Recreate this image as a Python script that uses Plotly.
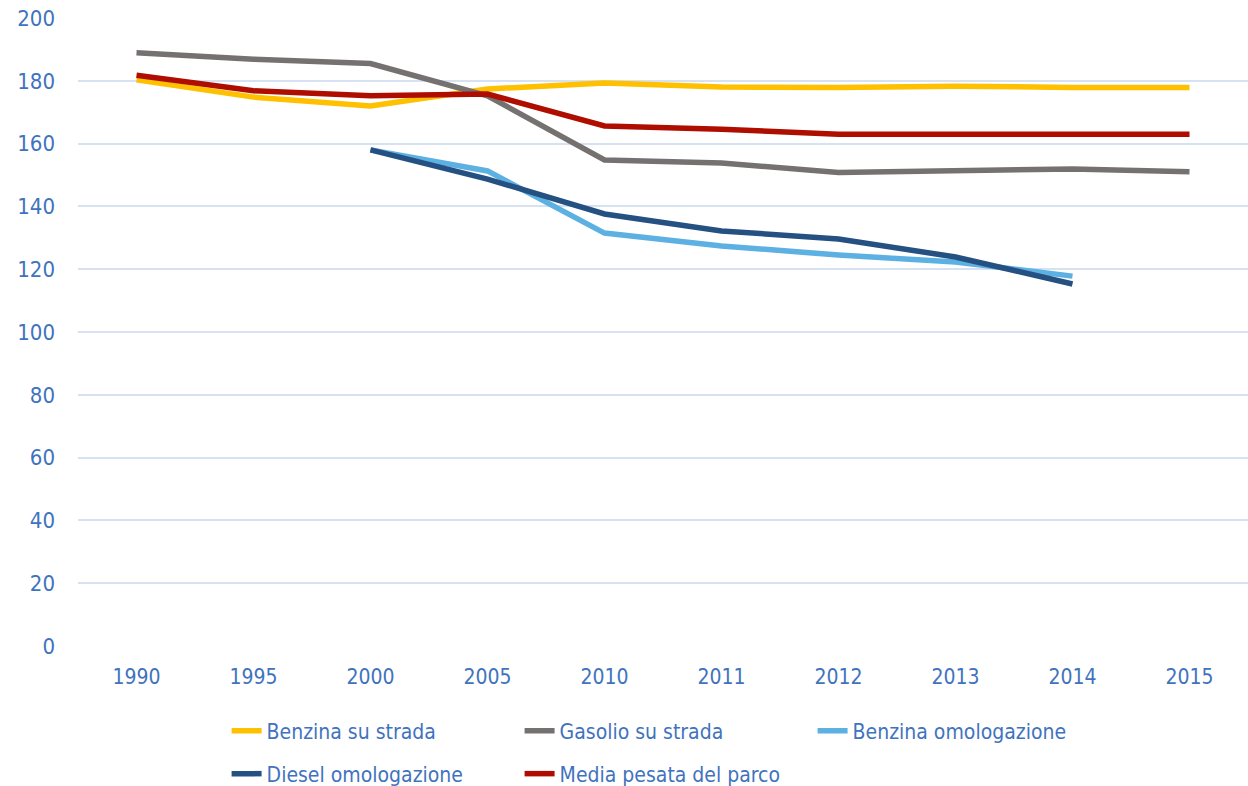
import plotly.graph_objects as go

years = ["1990", "1995", "2000", "2005", "2010", "2011", "2012", "2013", "2014", "2015"]
benzina_strada = [180.3, 174.8, 172.0, 177.4, 179.3, 178.0, 177.9, 178.3, 177.9, 177.9]
gasolio_strada = [188.9, 186.9, 185.5, 175.2, 154.8, 153.8, 150.8, 151.3, 151.9, 151.0]
benzina_omolog = [None, None, 158.0, 151.3, 131.5, 127.4, 124.5, 122.3, 117.8, None]
diesel_omolog = [None, None, 158.0, 148.7, 137.6, 132.2, 129.6, 123.9, 115.3, None]
media_pesata = [181.8, 176.8, 175.2, 175.8, 165.6, 164.6, 163.0, 163.2, 163.0, 163.0]

series = [
    ("Benzina su strada", benzina_strada, "#FFC000", "legend"),
    ("Gasolio su strada", gasolio_strada, "#767171", "legend"),
    ("Benzina omologazione", benzina_omolog, "#5DB0E2", "legend"),
    ("Diesel omologazione", diesel_omolog, "#245082", "legend2"),
    ("Media pesata del parco", media_pesata, "#AE0D00", "legend2"),
]

blue_text = "#3F73BE"
font_fam = "DejaVu Sans Condensed, Liberation Sans Narrow, sans-serif"

fig = go.Figure()
for name, vals, color, lg in series:
    fig.add_trace(go.Scatter(
        x=years, y=vals, name=name, mode="lines",
        line=dict(color=color, width=5.5), legend=lg,
    ))

legend_common = dict(orientation="h", x=0.127, xanchor="left", yanchor="middle",
                     yref="container", entrywidth=248, entrywidthmode="pixels",
                     font=dict(size=21, color=blue_text, family=font_fam),
                     bgcolor="rgba(0,0,0,0)")

fig.update_layout(
    width=1248, height=786,
    margin=dict(l=78, r=0, t=18, b=140, autoexpand=False),
    plot_bgcolor="white", paper_bgcolor="white",
    font=dict(family=font_fam, color=blue_text, size=22),
    xaxis=dict(type="category", range=[-0.5, 9.5], showgrid=False, zeroline=False,
               showline=False, tickfont=dict(size=21, color=blue_text),
               ticklabelstandoff=16),
    yaxis=dict(range=[0, 200], dtick=20, gridcolor="#D6E1F2", gridwidth=1.5,
               zeroline=False, showline=False,
               tickfont=dict(size=22, color=blue_text), ticklabelstandoff=22),
    legend=dict(legend_common, y=1 - 731 / 786),
    legend2=dict(legend_common, y=1 - 774 / 786),
    showlegend=True,
)

fig.write_html(
    "out.html",
    config={"displayModeBar": False},
    post_script="document.body.style.margin='0';document.body.style.overflow='hidden';",
)
